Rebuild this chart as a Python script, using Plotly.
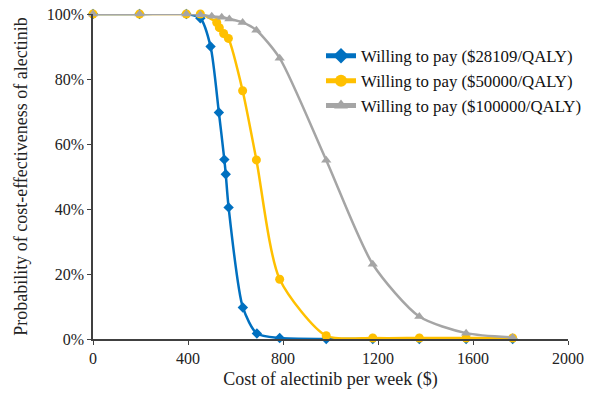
import plotly.graph_objects as go

# Data
blue_x = [0, 196, 393, 452, 495, 530, 553, 559, 571, 631, 690, 786, 982, 1178, 1374, 1571, 1767]
blue_y = [1.0, 1.0, 1.0, 0.987, 0.90, 0.697, 0.552, 0.507, 0.405, 0.097, 0.017, 0.003, 0.0, 0.0, 0.0, 0.0, 0.0]

orange_x = [0, 196, 393, 452, 521, 532, 550, 570, 630, 688, 786, 982, 1178, 1374, 1571, 1767]
orange_y = [1.0, 1.0, 1.0, 1.0, 0.974, 0.958, 0.94, 0.925, 0.764, 0.551, 0.184, 0.01, 0.003, 0.003, 0.003, 0.003]

grey_x = [0, 196, 393, 452, 500, 542, 574, 630, 688, 786, 982, 1178, 1374, 1571, 1767]
grey_y = [1.0, 1.0, 1.0, 0.998, 0.993, 0.99, 0.985, 0.974, 0.95, 0.864, 0.55, 0.23, 0.069, 0.018, 0.005]

names = ["Willing to pay ($28109/QALY)", "Willing to pay ($50000/QALY)", "Willing to pay ($100000/QALY)"]
x_ticks = [0, 400, 800, 1200, 1600, 2000]
y_ticks = [0, 0.2, 0.4, 0.6, 0.8, 1.0]

FONT = "Liberation Serif, Times New Roman, serif"

fig = go.Figure()
series = [
    (blue_x, blue_y, "#0070C0", "diamond", 8),
    (orange_x, orange_y, "#FFC000", "circle", 9),
    (grey_x, grey_y, "#A5A5A5", "triangle-up", 9),
]
for (xs, ys, col, sym, sz), nm in zip(series, names):
    fig.add_trace(go.Scatter(
        x=xs, y=ys, name=nm, mode="lines+markers",
        line=dict(color=col, width=2.5, shape="spline", smoothing=0.7),
        marker=dict(color=col, symbol=sym, size=sz),
        cliponaxis=False,
    ))

fig.update_layout(
    width=598, height=399,
    margin=dict(l=93, r=30, t=14, b=60),
    paper_bgcolor="white", plot_bgcolor="white",
    font=dict(family=FONT, color="#222", size=16),
    legend=dict(x=0.48, y=0.925, xanchor="left", yanchor="top",
                font=dict(family=FONT, size=16.8, color="#111"),
                bgcolor="rgba(0,0,0,0)", tracegroupgap=0, itemsizing="constant"),
    xaxis=dict(range=[0, 2000], tickvals=x_ticks, showgrid=False, zeroline=False,
               showline=True, linecolor="#404040", linewidth=1.5,
               ticks="outside", ticklen=4, tickcolor="#404040", automargin=False,
               title=dict(text="Cost of alectinib per week ($)", font=dict(size=18, family=FONT), standoff=6),
               tickfont=dict(size=16, family=FONT)),
    yaxis=dict(range=[0, 1.0], tickvals=y_ticks, tickformat=".0%", showgrid=False, zeroline=False,
               showline=True, linecolor="#404040", linewidth=1.5,
               ticks="outside", ticklen=4, tickcolor="#404040", automargin=False,
               title=dict(text="Probability of cost-effectiveness of alectinib", font=dict(size=18, family=FONT), standoff=14),
               tickfont=dict(size=16, family=FONT)),
)

fig.write_html("out.html", config={"displayModeBar": False},
               post_script="document.body.style.margin='0';document.body.style.overflow='hidden';")
